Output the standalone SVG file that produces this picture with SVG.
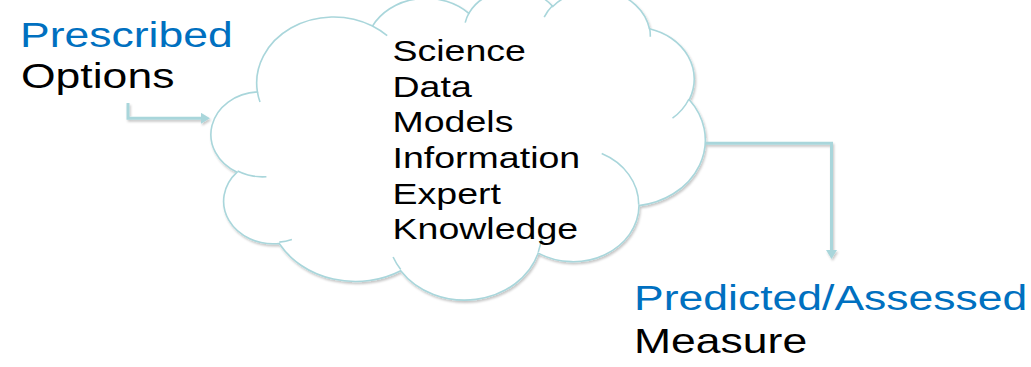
<svg xmlns="http://www.w3.org/2000/svg" width="1031" height="367" viewBox="0 0 1031 367">
  <style>
    .lbl { font-family: "Liberation Sans", Arial, sans-serif; font-size: 35px; }
    .blue { fill: #0070c0; }
    .blk { fill: #000000; }
    .item { font-family: "Liberation Sans", Arial, sans-serif; font-size: 29.5px; fill: #000000; }
    .cloud { fill: #ffffff; stroke: #a9d6db; stroke-width: 1.6; }
    .fold { fill: none; stroke: #a9d6db; stroke-width: 1.6; }
    .conn { fill: none; stroke: #a9d6db; stroke-width: 3; }
  </style>
  <defs>
    <filter id="shadow" x="-10%" y="-10%" width="120%" height="130%">
      <feDropShadow dx="1.2" dy="2" stdDeviation="1" flood-color="#000000" flood-opacity="0.22"/>
    </filter>
    <marker id="arrow" markerUnits="userSpaceOnUse" markerWidth="10" markerHeight="11" refX="2" refY="5.5" orient="auto">
      <path d="M0,0 L9,5.5 L0,11 Z" fill="#a9d6db"/>
    </marker>
  </defs>
  <rect width="1031" height="367" fill="#ffffff"/>

  <g id="cloud-node" filter="url(#shadow)">
    <path class="cloud" d="M257.4,91.9 A76.9,66 0 0 1 372.5,26.05 A60.7,52.2 0 0 1 468.8,13.3 A49.7,42.7 0 0 1 552.8,6.5 A55.3,47.4 0 0 1 649.4,28.7 A60.7,52.2 0 0 1 689.3,99.7 A77.2,66.2 0 0 1 639.0,205.6 A65.9,56.5 0 0 1 538.2,253.1 A76.9,66.2 0 0 1 400.7,270.7 A87.9,75.7 0 0 1 279.2,243.5 A49.7,42.5 0 0 1 237.1,172.2 A49.5,42.7 0 0 1 257.4,91.9 Z"/>
    <path class="fold" d="M266.4,176.7 A49.5,42.7 0 0 1 237.6,171.0 M291.9,239.4 A49.7,42.5 0 0 1 279.3,242.1 M400.7,269.5 A76.9,66.2 0 0 1 393.1,257.0 M541.3,238.3 A76.9,66.2 0 0 1 538.3,252.0 M601.7,153.6 A65.9,56.5 0 0 1 638.7,204.8 M689.0,99.0 A60.7,52.2 0 0 1 672.5,118.2 M649.5,27.7 A55.3,47.4 0 0 1 650.3,36.7 M544.2,17.1 A55.3,47.4 0 0 1 552.6,5.5 M465.2,22.6 A49.7,42.7 0 0 1 469.2,12.6 M372.4,26.0 A76.9,66 0 0 1 387.2,35.7 M260.0,102.1 A76.9,66 0 0 1 257.4,91.9"/>
  </g>
  <g id="cloud-text">
    <text class="item" transform="matrix(1.272 0 0 1 392.5 61)">Science</text>
    <text class="item" transform="matrix(1.272 0 0 1 392.5 96.7)">Data</text>
    <text class="item" transform="matrix(1.272 0 0 1 392.5 132.4)">Models</text>
    <text class="item" transform="matrix(1.272 0 0 1 392.5 168)">Information</text>
    <text class="item" transform="matrix(1.272 0 0 1 392.5 203.7)">Expert</text>
    <text class="item" transform="matrix(1.272 0 0 1 392.5 239.3)">Knowledge</text>
  </g>

  <g id="input-node">
    <text class="lbl blue" transform="matrix(1.272 0 0 1 20 47)">Prescribed</text>
    <text class="lbl blk" transform="matrix(1.272 0 0 1 21 88)">Options</text>
  </g>

  <g id="output-node">
    <text class="lbl blue" transform="matrix(1.272 0 0 1 634 310)">Predicted/Assessed</text>
    <text class="lbl blk" transform="matrix(1.272 0 0 1 634 353.3)">Measure</text>
  </g>

  <g id="connectors" filter="url(#shadow)">
    <path class="conn" d="M128,103 V118.3 H203" marker-end="url(#arrow)"/>
    <path class="conn" d="M706,143.3 H831.5 V252" marker-end="url(#arrow)"/>
  </g>
</svg>
